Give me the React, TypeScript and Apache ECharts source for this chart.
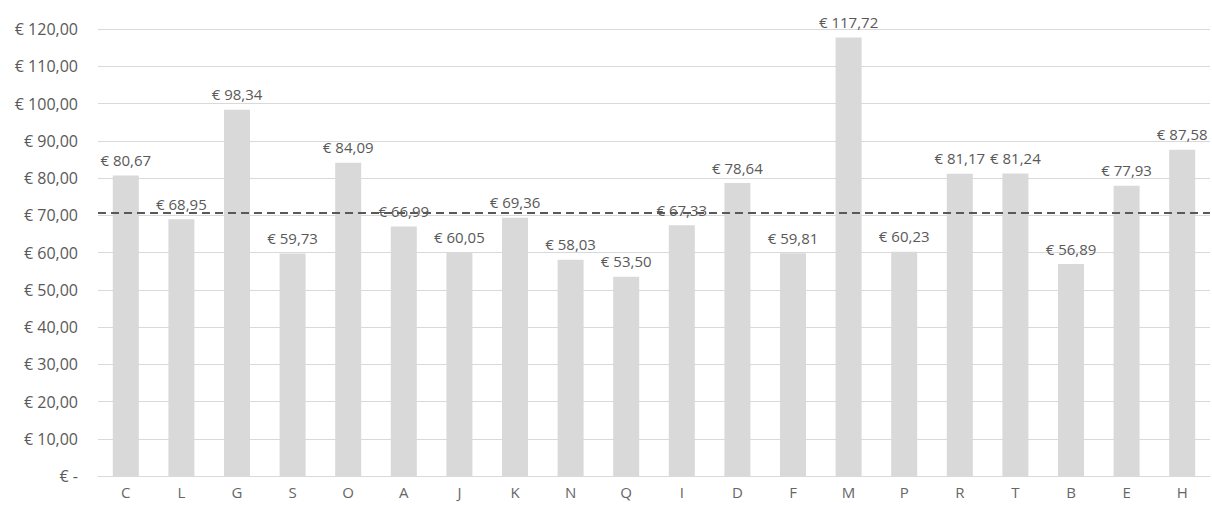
import React, { useEffect, useRef } from "react";
import * as echarts from "echarts";

const categories = ["C", "L", "G", "S", "O", "A", "J", "K", "N", "Q", "I", "D", "F", "M", "P", "R", "T", "B", "E", "H"];
const values = [80.67, 68.95, 98.34, 59.73, 84.09, 66.99, 60.05, 69.36, 58.03, 53.5, 67.33, 78.64, 59.81, 117.72, 60.23, 81.17, 81.24, 56.89, 77.93, 87.58];
const referenceLine = 70.7;
const yMin = 0;
const yMax = 120;
const yInterval = 10;

const fmt = (v: number) => (v === 0 ? "€ -" : "€ " + v.toFixed(2).replace(".", ","));

export default function App() {
  const ref = useRef<HTMLDivElement>(null);
  useEffect(() => {
    document.body.style.margin = "0";
    if (!ref.current) return;
    const chart = echarts.init(ref.current, null, { renderer: "svg" });
    const font = "'Open Sans', 'Liberation Sans', Arial, sans-serif";
    chart.setOption({
      animation: false,
      textStyle: { fontFamily: font },
      grid: { left: 98, right: 2, top: 29, bottom: 30, containLabel: false },
      xAxis: {
        type: "category",
        data: categories,
        axisLine: { lineStyle: { color: "#d9d9d9", width: 1 } },
        axisTick: { show: false },
        axisLabel: { color: "#666666", fontSize: 15, margin: 8, fontFamily: font },
      },
      yAxis: {
        type: "value",
        min: yMin,
        max: yMax,
        interval: yInterval,
        axisLine: { show: false },
        axisTick: { show: false },
        splitLine: { lineStyle: { color: "#d9d9d9", width: 1 } },
        axisLabel: { color: "#595959", fontSize: 16, margin: 20, formatter: (v: number) => fmt(v), fontFamily: font },
      },
      series: [
        {
          type: "bar",
          data: values,
          barWidth: 26,
          itemStyle: { color: "#d9d9d9" },
          label: {
            show: true,
            position: "top",
            distance: 8,
            color: "#595959",
            fontSize: 15,
            fontFamily: font,
            formatter: (p: any) => fmt(p.value),
          },
          markLine: {
            silent: true,
            symbol: ["none", "none"],
            label: { show: false },
            lineStyle: { color: "#595959", type: [8, 5], width: 2 },
            data: [{ yAxis: referenceLine }],
          },
        },
      ],
    });
    return () => chart.dispose();
  }, []);
  return <div ref={ref} style={{ width: 1212, height: 506 }} />;
}
